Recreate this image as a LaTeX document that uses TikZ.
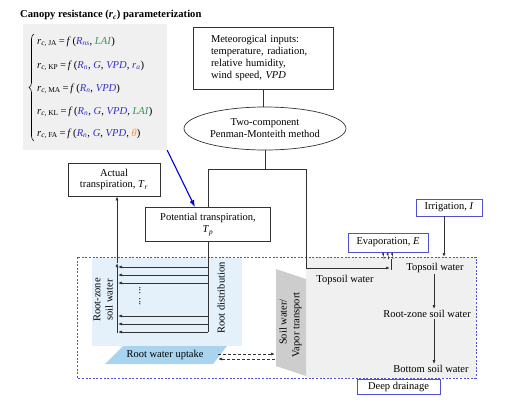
\documentclass[tikz,border=0pt]{standalone}
\usepackage{fontspec}
\setmainfont{Liberation Serif}
\usetikzlibrary{arrows.meta,shapes.geometric,calc,decorations.pathreplacing}
\definecolor{eqblue}{RGB}{50,50,205}
\definecolor{eqgreen}{RGB}{60,150,80}
\definecolor{eqorange}{RGB}{240,150,60}
\definecolor{eqgrey}{RGB}{240,240,240}
\definecolor{boxblue}{RGB}{80,80,215}
\definecolor{linegrey}{RGB}{50,50,50}
\definecolor{rzblue}{RGB}{228,241,251}
\definecolor{upblue}{RGB}{168,212,240}
\definecolor{trapgrey}{RGB}{205,205,205}
\definecolor{soilgrey}{RGB}{240,240,240}
\newcommand{\rcs}[1]{\textit{r}\textsubscript{\textit{c}, #1}}
\newcommand{\bl}[1]{\textcolor{eqblue}{#1}}
\newcommand{\Rn}{\bl{\textit{R}\textsubscript{\textit{n}}}}
\newcommand{\eqs}{\,=\,}
\begin{document}
\begin{tikzpicture}[x=1pt,y=-1pt,
  font=\fontsize{10.5}{11.8}\selectfont,
  blackbox/.style={draw=linegrey,line width=0.7pt,align=center,inner sep=1pt},
  bluebox/.style={draw=boxblue,line width=0.9pt,align=center,inner sep=1pt},
  conn/.style={draw=linegrey,line width=0.7pt},
  arr/.style={conn,-{Latex[length=4pt,width=3pt]}},
  eqline/.style={anchor=west,inner sep=0pt,font=\fontsize{10.6}{12}\selectfont},
  lbl/.style={inner sep=1pt}]
\useasboundingbox (0,0) rectangle (514,415);

% title and equation panel
\node[anchor=west,inner sep=0pt,font=\fontsize{10.6}{12}\selectfont\bfseries] (title) at (20,15)
  {Canopy resistance (\textit{r}\textsubscript{\textit{c}}) parameterization};
\node[fill=eqgrey,minimum width=144,minimum height=126,inner sep=0pt] (eqbox) at (95,87) {};
\draw[decorate,decoration={brace,amplitude=5pt},line width=0.6pt] (34,141) -- (34,34);
\node[eqline] (eq1) at (37,42) {\rcs{JA}\eqs\textit{f}\,(\bl{\textit{R}\textsubscript{\textit{ns}}}, \textcolor{eqgreen}{\textit{LAI}})};
\node[eqline] (eq2) at (37,66) {\rcs{KP}\eqs\textit{f}\,(\Rn, \bl{\textit{G}}, \bl{\textit{VPD}},\ \bl{\textit{r}\textsubscript{\textit{a}}})};
\node[eqline] (eq3) at (37,89) {\rcs{MA}\eqs\textit{f}\,(\Rn, \bl{\textit{VPD}})};
\node[eqline] (eq4) at (37,112) {\rcs{KL}\eqs\textit{f}\,(\Rn, \bl{\textit{G}}, \bl{\textit{VPD}}, \textcolor{eqgreen}{\textit{LAI}})};
\node[eqline] (eq5) at (37,134) {\rcs{FA}\eqs\textit{f}\,(\Rn, \bl{\textit{G}}, \bl{\textit{VPD}}, \textcolor{eqorange}{\textit{θ}})};

% meteorological inputs and PM
\node[blackbox,minimum width=140,minimum height=62,text width=104,align=left] (met) at (263,58)
  {Meteorogical inputs:\\temperature, radiation,\\relative humidity,\\wind speed, \textit{VPD}};
\node[ellipse,draw=linegrey,line width=0.7pt,minimum width=162,minimum height=43,inner sep=0pt,align=center] (pm) at (265,128.5)
  {Two-component\\Penman-Monteith method};
\draw[conn] (met.south) -- (met.south |- pm.north);

% soil regions (backgrounds)
\fill[soilgrey] (306,257) rectangle (476,378);
\fill[rzblue] (92,258) rectangle (242,346);
\fill[upblue] (105,364) -- (123,346) -- (227,346) -- (213,364) -- cycle;
\fill[trapgrey] (276,269) -- (306,279) -- (306,376) -- (276,366) -- cycle;
\draw[boxblue,line width=0.8pt,dash pattern=on 2pt off 1.6pt] (77,257) rectangle (476,378);

% boxes
\node[blackbox,minimum width=92,minimum height=33] (act) at (114,179.5)
  {Actual\\transpiration, \textit{T}\textsubscript{\textit{r}}};
\node[blackbox,fill=white,minimum width=125,minimum height=34] (pot) at (208,224.5)
  {Potential transpiration,\\\textit{T}\textsubscript{\textit{p}}};
\node[bluebox,minimum width=80,minimum height=19] (evap) at (388,242.5) {Evaporation, \textit{E}};
\node[bluebox,minimum width=66,minimum height=17] (irr) at (449,207.5) {Irrigation, \textit{I}};
\node[bluebox,minimum width=83,minimum height=15] (deep) at (398.5,386.5) {Deep drainage};

% labels
\node[lbl] (tsl) at (345,280) {Topsoil water};
\node[lbl] (tsr) at (435,268) {Topsoil water};
\node[lbl] (rzw) at (427,314) {Root-zone soil water};
\node[lbl] (bsw) at (431,369) {Bottom soil water};
\node[lbl,rotate=90] (rz1) at (97,300) {Root-zone};
\node[lbl,rotate=90] (rz2) at (109,300) {soil water};
\node[lbl,rotate=90] (rdist) at (221,298) {Root distribution};
\node[lbl,rotate=90] (dots) at (140,296) {... ...};
\node[lbl] (upt) at (165,355) {Root water uptake};
\node[lbl,rotate=90] (sw1) at (283,322) {Soil water/};
\node[lbl,rotate=90] (sw2) at (297,325) {Vapor transport};

% PM split
\coordinate (split) at (265,169);
\coordinate (cl) at (208,169);
\coordinate (cr) at (306,169);
\coordinate (evfoot) at (390,268);
\draw[conn] (pm.south) -- (split);
\draw[conn] (pot.north -| cl) -- (cl) -- (cr);
\draw[arr] (cr) |- (evfoot);
\draw[conn] ($(evfoot)+(1,2)$) -- ($(evfoot)+(1,-9)$);
\foreach \dx in {-6,-1.5,3}
  \draw[conn,line width=0.6pt,-{Latex[length=2.5pt,width=2.5pt]}] ($(evfoot)+(\dx,-9)$) .. controls ($(evfoot)+(\dx+1.5,-11)$) and ($(evfoot)+(\dx-1.5,-13)$) .. ($(evfoot |- evap.south)+(\dx,0)$);

% root distribution
\coordinate (rdbot) at (208,332);
\draw[conn] (pot.south -| cl) -- (rdbot);
\coordinate (upbot) at (117,333);
\coordinate (upmid) at (117,263);
\draw[arr] (upbot) -- (upmid);
\draw[arr] (upmid) -- (act.south -| upmid);
\foreach \yy in {267,275,283,316,324,332}
  \draw[arr] (208,\yy) -- (118,\yy);

% blue arrow
\draw[draw=blue!85!black,line width=1.1pt,-{Latex[length=7pt,width=5pt]}] (eqbox.south east) -- (pot.north west -| 195,0);

% dashed exchange
\coordinate (exL1) at (218,354);
\coordinate (exR1) at (275,354);
\coordinate (exL2) at (218,359);
\coordinate (exR2) at (275,359);
\draw[arr,densely dashed] (exL1) -- (exR1);
\draw[arr,densely dashed] (exR2) -- (exL2);

% soil water column
\coordinate (irrend) at (444,257);
\coordinate (col) at (434,0);
\draw[arr] (irr.south -| irrend) -- (irrend);
\draw[arr] (tsr.south -| col) -- (rzw.north -| col);
\draw[arr] (rzw.south -| col) -- (bsw.north -| col);
\end{tikzpicture}
\end{document}
